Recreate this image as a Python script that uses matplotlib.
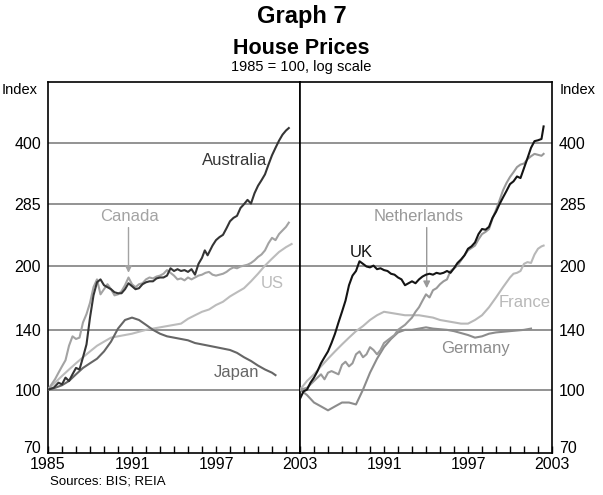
import matplotlib.pyplot as plt
import numpy as np

plt.rcParams['font.family'] = ['Liberation Sans', 'DejaVu Sans']

# ---- left panel data (1985 = 100) ----
aus_t = [1985.0, 1985.4, 1985.75, 1986.0, 1986.25, 1986.5, 1986.75, 1987.0, 1987.25, 1987.5, 1987.75,
         1988.0, 1988.25, 1988.5, 1988.75, 1989.0, 1989.25, 1989.5, 1989.75, 1990.0, 1990.25, 1990.5,
         1990.75, 1991.0, 1991.25, 1991.5, 1991.75, 1992.0, 1992.25, 1992.5, 1992.75, 1993.0, 1993.25,
         1993.5, 1993.75, 1994.0, 1994.25, 1994.5, 1994.75, 1995.0, 1995.25, 1995.5, 1995.75, 1996.0,
         1996.2, 1996.4, 1996.75, 1997.0, 1997.25, 1997.5, 1997.75, 1998.0, 1998.25, 1998.5, 1998.75,
         1999.0, 1999.25, 1999.5, 1999.75, 2000.0, 2000.25, 2000.5, 2000.75, 2001.0, 2001.25, 2001.5,
         2001.75, 2002.0, 2002.2]
aus_v = [100, 101, 104, 103, 107, 105, 109, 113, 112, 120, 129,
         150, 170, 183, 186, 180, 178, 176, 173, 172, 172, 176,
         182, 179, 176, 177, 181, 183, 184, 184, 187, 188, 188,
         190, 198, 195, 197, 195, 196, 194, 197, 191, 203, 210,
         219, 213, 225, 232, 236, 239, 248, 258, 263, 266, 278,
         284, 291, 285, 302, 315, 325, 336, 355, 374, 390, 406,
         420, 430, 436]

can_t = [1985.0, 1985.25, 1985.5, 1985.75, 1986.0, 1986.25, 1986.5, 1986.75, 1987.0, 1987.25, 1987.5,
         1987.75, 1988.0, 1988.25, 1988.5, 1988.75, 1989.0, 1989.25, 1989.5, 1989.75, 1990.0, 1990.25,
         1990.5, 1990.75, 1991.0, 1991.25, 1991.5, 1991.75, 1992.0, 1992.25, 1992.5, 1992.75, 1993.0,
         1993.25, 1993.5, 1993.75, 1994.0, 1994.25, 1994.5, 1994.75, 1995.0, 1995.25, 1995.5, 1995.75,
         1996.0, 1996.25, 1996.5, 1996.75, 1997.0, 1997.25, 1997.5, 1997.75, 1998.0, 1998.25, 1998.5,
         1998.75, 1999.0, 1999.25, 1999.5, 1999.75, 2000.0, 2000.25, 2000.5, 2000.75, 2001.0, 2001.25,
         2001.5, 2001.75, 2002.0, 2002.2]
can_v = [100, 103, 106, 110, 114, 118, 128, 135, 133, 134, 146,
         153, 163, 178, 186, 171, 176, 181, 176, 170, 171, 174,
         180, 188, 181, 178, 181, 182, 186, 188, 187, 189, 190,
         192, 196, 193, 190, 186, 187, 185, 188, 186, 188, 190,
         191, 193, 194, 191, 190, 191, 192, 194, 197, 199, 198,
         200, 201, 202, 204, 207, 211, 214, 219, 228, 235, 232,
         240, 245, 250, 256]

us_t = [1985.0, 1985.5, 1986.0, 1986.5, 1987.0, 1987.5, 1988.0, 1988.5, 1989.0, 1989.5, 1990.0, 1990.5,
        1991.0, 1991.5, 1992.0, 1992.5, 1993.0, 1993.5, 1994.0, 1994.5, 1995.0, 1995.5, 1996.0, 1996.5,
        1997.0, 1997.5, 1998.0, 1998.5, 1999.0, 1999.5, 2000.0, 2000.5, 2001.0, 2001.5, 2002.0, 2002.4]
us_v = [100, 104, 108, 112, 116, 120, 124, 128, 131, 134, 135, 136,
        137, 138.5, 140, 141, 142, 143, 144, 145, 149, 152, 155, 157,
        161, 164, 169, 173, 177, 184, 192, 201, 209, 217, 223, 227]

jpn_t = [1985.0, 1985.5, 1986.0, 1986.5, 1987.0, 1987.5, 1988.0, 1988.5, 1989.0, 1989.5, 1990.0, 1990.5,
         1991.0, 1991.5, 1992.0, 1992.5, 1993.0, 1993.5, 1994.0, 1994.5, 1995.0, 1995.5, 1996.0, 1996.5,
         1997.0, 1997.5, 1998.0, 1998.5, 1999.0, 1999.5, 2000.0, 2000.5, 2001.0, 2001.25]
jpn_v = [100, 101, 102.5, 105, 109, 113, 116, 119, 124, 131, 141, 148,
         150, 148, 144, 140, 137, 135, 134, 133, 132, 130, 129, 128,
         127, 126, 125, 123, 120, 117.5, 114.5, 112, 110, 108.5]

# ---- right panel data ----
uk_t = [1985.0, 1985.25, 1985.5, 1985.75, 1986.0, 1986.25, 1986.5, 1986.75, 1987.0, 1987.25, 1987.5,
        1987.75, 1988.0, 1988.25, 1988.5, 1988.75, 1989.0, 1989.25, 1989.5, 1989.75, 1990.0, 1990.25,
        1990.5, 1990.75, 1991.0, 1991.25, 1991.5, 1991.75, 1992.0, 1992.25, 1992.5, 1992.75, 1993.0,
        1993.25, 1993.5, 1993.75, 1994.0, 1994.25, 1994.5, 1994.75, 1995.0, 1995.25, 1995.5, 1995.75,
        1996.0, 1996.25, 1996.5, 1996.75, 1997.0, 1997.25, 1997.5, 1997.75, 1998.0, 1998.25, 1998.5,
        1998.75, 1999.0, 1999.25, 1999.5, 1999.75, 2000.0, 2000.25, 2000.5, 2000.75, 2001.0, 2001.25,
        2001.5, 2001.75, 2002.0, 2002.25, 2002.4]
uk_v = [95, 99, 100, 104, 107, 111, 116, 120, 124, 130, 137,
        146, 155, 165, 180, 190, 195, 206, 203, 200, 199, 201,
        197, 198, 196, 195, 192, 191, 188, 186, 180, 182, 184,
        182, 186, 189, 191, 192, 191, 193, 192, 193, 195, 193,
        198, 204, 208, 213, 221, 224, 229, 240, 247, 246, 250,
        263, 272, 284, 295, 306, 318, 323, 332, 329, 348, 368,
        390, 405, 407, 410, 440]

nld_t = [1985.0, 1985.5, 1986.0, 1986.25, 1986.5, 1986.75, 1987.0, 1987.25, 1987.5, 1987.75, 1988.0,
         1988.25, 1988.5, 1988.75, 1989.0, 1989.25, 1989.5, 1989.75, 1990.0, 1990.25, 1990.5, 1990.75,
         1991.0, 1991.25, 1991.5, 1991.75, 1992.0, 1992.25, 1992.5, 1992.75, 1993.0, 1993.25, 1993.5,
         1993.75, 1994.0, 1994.25, 1994.5, 1994.75, 1995.0, 1995.25, 1995.5, 1995.75, 1996.0, 1996.25,
         1996.5, 1996.75, 1997.0, 1997.25, 1997.5, 1997.75, 1998.0, 1998.25, 1998.5, 1998.75, 1999.0,
         1999.25, 1999.5, 1999.75, 2000.0, 2000.25, 2000.5, 2000.75, 2001.0, 2001.25, 2001.5, 2001.75,
         2002.0, 2002.25, 2002.4]
nld_v = [100, 101, 105, 107, 109, 106, 110, 111, 110, 109, 115,
         117, 114, 116, 122, 124, 120, 122, 127, 125, 122, 125,
         130, 132, 134, 136, 140, 142, 144, 147, 150, 155, 159,
         165, 171, 168, 175, 177, 181, 184, 186, 195, 198, 201,
         207, 213, 219, 222, 225, 233, 240, 243, 247, 262, 275,
         290, 307, 320, 331, 340, 350, 355, 357, 366, 372, 377,
         375, 373, 377]

fra_t = [1985.0, 1985.5, 1986.0, 1986.5, 1987.0, 1987.5, 1988.0, 1988.5, 1989.0, 1989.5, 1990.0, 1990.5,
         1991.0, 1991.5, 1992.0, 1992.5, 1993.0, 1993.5, 1994.0, 1994.5, 1995.0, 1995.5, 1996.0, 1996.5,
         1997.0, 1997.5, 1998.0, 1998.5, 1999.0, 1999.5, 2000.0, 2000.25, 2000.5, 2000.75, 2001.0,
         2001.25, 2001.5, 2001.75, 2002.0, 2002.25, 2002.4]
fra_v = [100, 105, 109, 114, 119, 124, 129, 134, 139, 143, 148, 152,
         155, 154, 153, 152, 152, 152, 151, 150, 148, 147, 146, 145,
         145, 148, 152, 159, 168, 178, 188, 192, 193, 195, 203,
         205, 204, 214, 221, 224, 225]

deu_t = [1985.0, 1985.5, 1986.0, 1986.5, 1987.0, 1987.5, 1988.0, 1988.5, 1989.0, 1989.5, 1990.0, 1990.5,
         1991.0, 1991.5, 1992.0, 1992.5, 1993.0, 1993.5, 1994.0, 1994.5, 1995.0, 1995.5, 1996.0, 1996.5,
         1997.0, 1997.5, 1998.0, 1998.5, 1999.0, 1999.5, 2000.0, 2000.5, 2001.0, 2001.5]
deu_v = [100, 97, 93, 91, 89, 91, 93, 93, 92, 100, 110, 119,
         127, 133, 138, 140, 140, 141, 142, 141, 140.5, 140, 139, 137.5,
         136, 134, 135, 137, 138, 138.5, 139, 139.5, 140, 141]

yticks = [70, 100, 140, 200, 285, 400]
xtick_labels_left = ['1985', '1991', '1997', '2003']
xtick_labels_right = ['', '1991', '1997', '2003']

# colours
c_aus, c_can, c_us, c_jpn = '#353535', '#a3a3a3', '#bcbcbc', '#666666'
c_uk, c_nld, c_fra, c_deu = '#141414', '#999999', '#b8b8b8', '#8c8c8c'
grid_c = '#808080'
lw = 1.5

fig = plt.figure(figsize=(6.03, 4.95), dpi=100)
axL = fig.add_axes([48 / 603, 1 - 453 / 495, 252 / 603, 371 / 495])
axR = fig.add_axes([300 / 603, 1 - 453 / 495, 252 / 603, 371 / 495])


def style(ax, labels, side):
    ax.set_yscale('log')
    ax.set_ylim(70, 565)
    ax.set_xlim(1985, 2003)
    for v in yticks[1:]:
        ax.axhline(v, color=grid_c, lw=1.2, zorder=1)
    ax.set_yticks(yticks)
    ax.set_yticklabels([str(v) for v in yticks])
    ax.minorticks_off()
    ax.tick_params(axis='y', length=0, labelsize=11.5, pad=5)
    if side == 'right':
        ax.yaxis.tick_right()
    # bottom label sits on the axis line
    ax.get_yticklabels()[0].set_va('baseline')
    ax.set_xticks(np.arange(1985, 2004, 1), minor=True)
    ax.set_xticks([1985, 1991, 1997, 2003])
    ax.set_xticklabels(labels)
    ax.tick_params(axis='x', which='both', direction='in', length=5, width=1,
                   labelsize=11.5, pad=3, top=False)
    for s in ax.spines.values():
        s.set_linewidth(1.2)
        s.set_color('black')


style(axL, xtick_labels_left, 'left')
style(axR, xtick_labels_right, 'right')

axL.plot(us_t, us_v, color=c_us, lw=lw, zorder=3)
axL.plot(jpn_t, jpn_v, color=c_jpn, lw=lw, zorder=3)
axL.plot(can_t, can_v, color=c_can, lw=lw, zorder=4)
axL.plot(aus_t, aus_v, color=c_aus, lw=lw, zorder=5)

axR.plot(deu_t, deu_v, color=c_deu, lw=lw, zorder=3)
axR.plot(fra_t, fra_v, color=c_fra, lw=lw, zorder=3)
axR.plot(nld_t, nld_v, color=c_nld, lw=lw, zorder=4)
axR.plot(uk_t, uk_v, color=c_uk, lw=lw, zorder=5)

fs = 12
arrow = dict(arrowstyle='-|>', lw=1, mutation_scale=10, shrinkA=0, shrinkB=0)
axL.text(1998.35, 363, 'Australia', color=c_aus, fontsize=fs, ha='center', va='center')
axL.text(1990.85, 265, 'Canada', color=c_can, fontsize=fs, ha='center', va='center')
axL.annotate('', xy=(1990.75, 193), xytext=(1990.75, 249), arrowprops=dict(arrow, color=c_can))
axL.text(2001.0, 182, 'US', color=c_us, fontsize=fs, ha='center', va='center')
axL.text(1998.5, 110, 'Japan', color=c_jpn, fontsize=fs, ha='center', va='center')

axR.text(1989.4, 216, 'UK', color=c_uk, fontsize=fs, ha='center', va='center')
axR.text(1993.45, 265, 'Netherlands', color=c_nld, fontsize=fs, ha='center', va='center')
axR.annotate('', xy=(1994.05, 177), xytext=(1994.05, 249), arrowprops=dict(arrow, color=c_nld))
axR.text(2002.9, 163, 'France', color=c_fra, fontsize=fs, ha='right', va='center')
axR.text(1997.5, 126, 'Germany', color=c_deu, fontsize=fs, ha='center', va='center')

fig.text(0.5, 1 - 16 / 495, 'Graph 7', ha='center', va='center', fontsize=17, fontweight='bold')
fig.text(0.5, 1 - 48 / 495, 'House Prices', ha='center', va='center', fontsize=15.5, fontweight='bold')
fig.text(0.5, 1 - 67 / 495, '1985 = 100, log scale', ha='center', va='center', fontsize=10.5)
fig.text(20 / 603, 1 - 90 / 495, 'Index', ha='center', va='center', fontsize=10.5)
fig.text(578 / 603, 1 - 90 / 495, 'Index', ha='center', va='center', fontsize=10.5)
fig.text(50 / 603, 1 - 481 / 495, 'Sources: BIS; REIA', ha='left', va='center', fontsize=9.5)

fig.savefig('out.png', dpi=100)
